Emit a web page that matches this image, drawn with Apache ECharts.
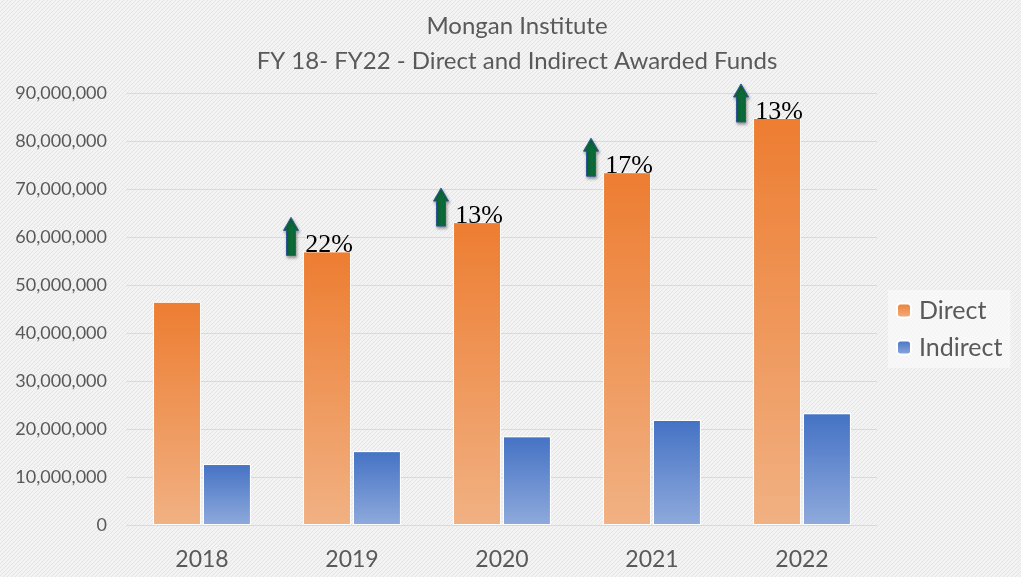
<!DOCTYPE html>
<html>
<head>
<meta charset="utf-8">
<script src="https://cdn.jsdelivr.net/npm/echarts@6/dist/echarts.min.js"></script>
<style>
  html, body { margin: 0; padding: 0; }
  #chart { width: 1021px; height: 577px; }
</style>
</head>
<body>
<div id="chart"></div>
<script>
const years = ["2018", "2019", "2020", "2021", "2022"]
const direct = [46500000, 57000000, 63100000, 73500000, 84800000]
const indirect = [12700000, 15400000, 18500000, 21900000, 23300000]
const growth = ["", "22%", "13%", "17%", "13%"]

// light hatched background like the original slide
function hatch() {
  const c = document.createElement("canvas")
  c.width = 4
  c.height = 4
  const ctx = c.getContext("2d")
  ctx.fillStyle = "#f3f3f3"
  ctx.fillRect(0, 0, 4, 4)
  ctx.strokeStyle = "#e4e4e4"
  ctx.lineWidth = 1
  ctx.beginPath()
  ctx.moveTo(0, 4)
  ctx.lineTo(4, 0)
  ctx.stroke()
  return c
}

const chart = echarts.init(document.getElementById("chart"))

const grad = (top, bottom) =>
  new echarts.graphic.LinearGradient(0, 0, 0, 1, [
    { offset: 0, color: top },
    { offset: 1, color: bottom }
  ])

chart.setOption({
  backgroundColor: { image: hatch(), repeat: "repeat" },
  title: {
    text: "Mongan Institute\nFY 18- FY22 - Direct and Indirect Awarded Funds",
    left: 512,
    textAlign: "center",
    top: 4,
    textStyle: {
      fontFamily: "Lato",
      fontSize: 24,
      fontWeight: "normal",
      color: "#595959",
      lineHeight: 35
    }
  },
  legend: {
    orient: "vertical",
    left: 888,
    top: 290,
    padding: [8, 8, 8, 8],
    itemGap: 12,
    itemWidth: 14,
    itemHeight: 14,
    backgroundColor: "rgba(250,250,250,0.75)",
    textStyle: { fontFamily: "Lato", fontSize: 25, color: "#595959", padding: [0, 0, 0, 3] },
    data: ["Direct", "Indirect"]
  },
  grid: { left: 127, right: 144, top: 93, bottom: 52 },
  xAxis: {
    type: "category",
    data: years,
    axisTick: { show: false },
    axisLine: { lineStyle: { color: "#d9d9d9" } },
    axisLabel: { fontFamily: "Lato", fontSize: 23, color: "#595959", margin: 23 }
  },
  yAxis: {
    type: "value",
    min: 0,
    max: 90000000,
    interval: 10000000,
    axisLabel: {
      fontFamily: "Lato",
      fontSize: 18,
      color: "#595959",
      margin: 20,
      formatter: v => v.toLocaleString("en-US")
    },
    splitLine: { lineStyle: { color: "#d9d9d9" } }
  },
  series: [
    {
      name: "Direct",
      type: "bar",
      data: direct,
      barWidth: 48,
      barGap: "4%",
      itemStyle: {
        color: grad("#ed7d31", "#f1b183"),
        borderColor: "#ffffff",
        borderWidth: 1
      },
      label: {
        show: true,
        position: "top",
        distance: 0,
        offset: [2, 7],
        fontFamily: "Liberation Serif",
        fontSize: 26,
        color: "#000",
        formatter: p => growth[p.dataIndex]
      }
    },
    {
      name: "Indirect",
      type: "bar",
      data: indirect,
      barWidth: 48,
      itemStyle: {
        color: grad("#4472c4", "#8faadc"),
        borderColor: "#ffffff",
        borderWidth: 1
      }
    },
    {
      // green up-arrows next to the growth labels
      type: "custom",
      data: direct.map((v, i) => [i, v, growth[i]]),
      z: 5,
      silent: true,
      renderItem: (params, api) => {
        if (!api.value(2)) return null
        const p = api.coord([api.value(0), api.value(1)])
        const x = p[0] - 61
        const y = p[1] + 4
        const h = 38
        const hw = 7.5, sw = 4.5, hh = 13
        return {
          type: "polygon",
          shape: {
            points: [
              [x - sw, y], [x + sw, y], [x + sw, y - h + hh],
              [x + hw, y - h + hh], [x, y - h], [x - hw, y - h + hh],
              [x - sw, y - h + hh]
            ]
          },
          style: {
            fill: "#0b6a37",
            stroke: "#2f5597",
            lineWidth: 1,
            shadowBlur: 3,
            shadowOffsetX: 1,
            shadowOffsetY: 2,
            shadowColor: "rgba(0,0,0,0.35)"
          }
        }
      }
    }
  ]
})
</script>
</body>
</html>
